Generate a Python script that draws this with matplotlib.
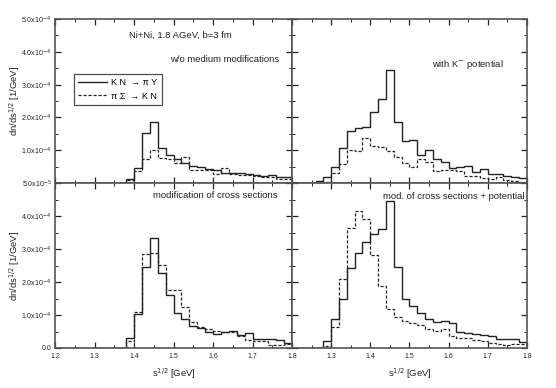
import numpy as np
import matplotlib
matplotlib.use("Agg")
import matplotlib.pyplot as plt
from matplotlib.ticker import MultipleLocator, FixedLocator, FixedFormatter
from matplotlib.lines import Line2D

plt.rcParams['font.family'] = ['Liberation Sans', 'DejaVu Sans']

# bin edges of sqrt(s) [GeV], 0.02 GeV wide
edges = np.round(np.linspace(1.2, 1.8, 31), 2)

# dn/ds^1/2 in units of 1e-4 / GeV
# panel: w/o medium modifications
wo_kn = [0, 0, 0, 0, 0, 0, 0, 0, 0, 0.13, 0.45, 1.53, 1.85, 1.06, 0.86, 0.72, 0.60, 0.52, 0.48,
         0.42, 0.40, 0.32, 0.32, 0.30, 0.28, 0.23, 0.21, 0.23, 0.19, 0.17]
wo_ps = [0, 0, 0, 0, 0, 0, 0, 0, 0, 0.08, 0.38, 0.74, 1.00, 0.77, 0.74, 0.62, 0.78, 0.39, 0.39,
         0.40, 0.27, 0.46, 0.26, 0.24, 0.24, 0.21, 0.19, 0.17, 0.13, 0.11]
# panel: with K- potential
pot_kn = [0, 0, 0, 0.05, 0.19, 0.48, 1.08, 1.60, 1.67, 1.72, 2.17, 2.57, 3.43, 1.87, 1.27, 1.30,
          0.85, 1.00, 0.72, 0.63, 0.45, 0.48, 0.52, 0.33, 0.44, 0.26, 0.28, 0.22, 0.17, 0.16]
pot_ps = [0, 0, 0, 0.02, 0.03, 0.29, 0.57, 1.00, 0.98, 1.36, 1.13, 1.09, 0.98, 0.80, 0.62, 0.50,
          0.74, 0.65, 0.37, 0.40, 0.40, 0.38, 0.22, 0.21, 0.14, 0.11, 0.19, 0.09, 0.05, 0.04]
# panel: modification of cross sections
xs_kn = [0, 0, 0, 0, 0, 0, 0, 0, 0, 0.29, 1.03, 2.46, 3.33, 2.28, 1.62, 1.05, 0.87, 0.68, 0.60,
         0.47, 0.42, 0.47, 0.53, 0.39, 0.44, 0.28, 0.26, 0.28, 0.25, 0.16]
xs_ps = [0, 0, 0, 0, 0, 0, 0, 0, 0, 0.20, 1.10, 2.86, 2.88, 2.52, 1.77, 1.77, 1.23, 0.78, 0.63,
         0.58, 0.53, 0.50, 0.47, 0.37, 0.23, 0.22, 0.21, 0.10, 0.10, 0.12]
# panel: mod. of cross sections + potential
both_kn = [0, 0, 0, 0, 0.21, 0.87, 1.49, 2.41, 2.87, 3.22, 3.46, 3.62, 4.44, 2.46, 1.47, 1.28,
           1.07, 0.88, 0.80, 0.82, 0.77, 0.49, 0.46, 0.42, 0.40, 0.35, 0.27, 0.27, 0.27, 0.18]
both_ps = [0, 0, 0, 0, 0.05, 0.63, 2.09, 3.65, 4.14, 3.92, 2.82, 1.89, 1.19, 0.93, 0.82, 0.77,
           0.70, 0.57, 0.53, 0.58, 0.37, 0.30, 0.30, 0.24, 0.21, 0.15, 0.12, 0.10, 0.12, 0.12]

xticks = [1.2, 1.3, 1.4, 1.5, 1.6, 1.7, 1.8]
xticklabels = ['1.2', '1.3', '1.4', '1.5', '1.6', '1.7', '1.8']
yticks = [0, 1e-4, 2e-4, 3e-4, 4e-4, 5e-4]
top_ylabels = ['5.0x10$^{-5}$', '1.0x10$^{-4}$', '2.0x10$^{-4}$', '3.0x10$^{-4}$', '4.0x10$^{-4}$', '5.0x10$^{-4}$']
bot_ylabels = ['0.0', '1.0x10$^{-4}$', '2.0x10$^{-4}$', '3.0x10$^{-4}$', '4.0x10$^{-4}$', '']

W, H = 556, 388
fig = plt.figure(figsize=(W / 100, H / 100), dpi=100)

def make_ax(x0, x1, y0, y1):
    return fig.add_axes([x0 / W, 1 - y1 / H, (x1 - x0) / W, (y1 - y0) / H])

ax_tl = make_ax(55, 292, 19, 183)
ax_tr = make_ax(292, 527, 19, 183)
ax_bl = make_ax(55, 292, 183, 348)
ax_br = make_ax(292, 527, 183, 348)

panels = [
    (ax_tl, wo_kn, wo_ps, 'w/o medium modifications', 0.945, 0.75),
    (ax_tr, pot_kn, pot_ps, 'with K$^{-}$ potential', 0.90, 0.725),
    (ax_bl, xs_kn, xs_ps, 'modification of cross sections', 0.94, 0.925),
    (ax_br, both_kn, both_ps, 'mod. of cross sections + potential', 0.99, 0.92),
]

line_col = '#222222'
for ax, kn, ps, title, tx, ty in panels:
    ax.stairs(np.array(kn) * 1e-4, edges, color=line_col, lw=1.0)
    ax.stairs(np.array(ps) * 1e-4, edges, color=line_col, lw=0.9, linestyle=(0, (2.5, 1.5)))
    ax.set_xlim(1.2, 1.8)
    ax.set_ylim(0, 5e-4)
    ax.xaxis.set_major_locator(FixedLocator(xticks))
    ax.xaxis.set_minor_locator(MultipleLocator(0.05))
    ax.yaxis.set_major_locator(FixedLocator(yticks))
    ax.yaxis.set_minor_locator(MultipleLocator(0.5e-4))
    ax.tick_params(which='both', direction='in', top=True, right=True, labelsize=5, colors='#222222')
    ax.tick_params(axis='y', pad=2.5)
    ax.tick_params(which='major', length=4, width=0.9)
    ax.tick_params(which='minor', length=2.5, width=0.7)
    for s in ax.spines.values():
        s.set_color('#555555')
        s.set_linewidth(1.2)
    ax.text(tx, ty, title, transform=ax.transAxes,
            ha='right', va='center', fontsize=6.8, color='#222222')

for ax in (ax_tl, ax_tr):
    ax.tick_params(labelbottom=False)
for ax in (ax_tr, ax_br):
    ax.tick_params(labelleft=False)

ax_tl.yaxis.set_major_formatter(FixedFormatter(top_ylabels))
ax_bl.yaxis.set_major_formatter(FixedFormatter(bot_ylabels))
ax_bl.xaxis.set_major_formatter(FixedFormatter(xticklabels))
ax_br.xaxis.set_major_formatter(FixedFormatter(['', '1.3', '1.4', '1.5', '1.6', '1.7', '1.8']))

for ax in (ax_tl, ax_bl):
    ax.set_ylabel('dn/ds$^{1/2}$ [1/GeV]', fontsize=6.8, color='#222222')
    ax.yaxis.set_label_coords(-0.14, 0.5)
for ax in (ax_bl, ax_br):
    ax.set_xlabel('s$^{1/2}$ [GeV]', fontsize=6.8, labelpad=5, color='#222222')

ax_tl.text(0.53, 0.90, 'Ni+Ni, 1.8 AGeV, b=3 fm', transform=ax_tl.transAxes,
           ha='center', va='center', fontsize=6.8, color='#222222')

handles = [Line2D([], [], color=line_col, lw=1.0),
           Line2D([], [], color=line_col, lw=0.9, linestyle=(0, (2.5, 1.5)))]
leg = ax_tl.legend(handles, ['K N  \u2192 \u03c0 Y', '\u03c0 \u03a3  \u2192 K N'],
                   loc='upper left', bbox_to_anchor=(0.08, 0.665), borderaxespad=0,
                   fontsize=6.5, frameon=True, fancybox=False, handlelength=3.2,
                   handletextpad=0.4, borderpad=0.5, labelspacing=0.45)
leg.get_frame().set_edgecolor('#222222')
leg.get_frame().set_linewidth(0.9)

fig.savefig('out.png', dpi=100)
